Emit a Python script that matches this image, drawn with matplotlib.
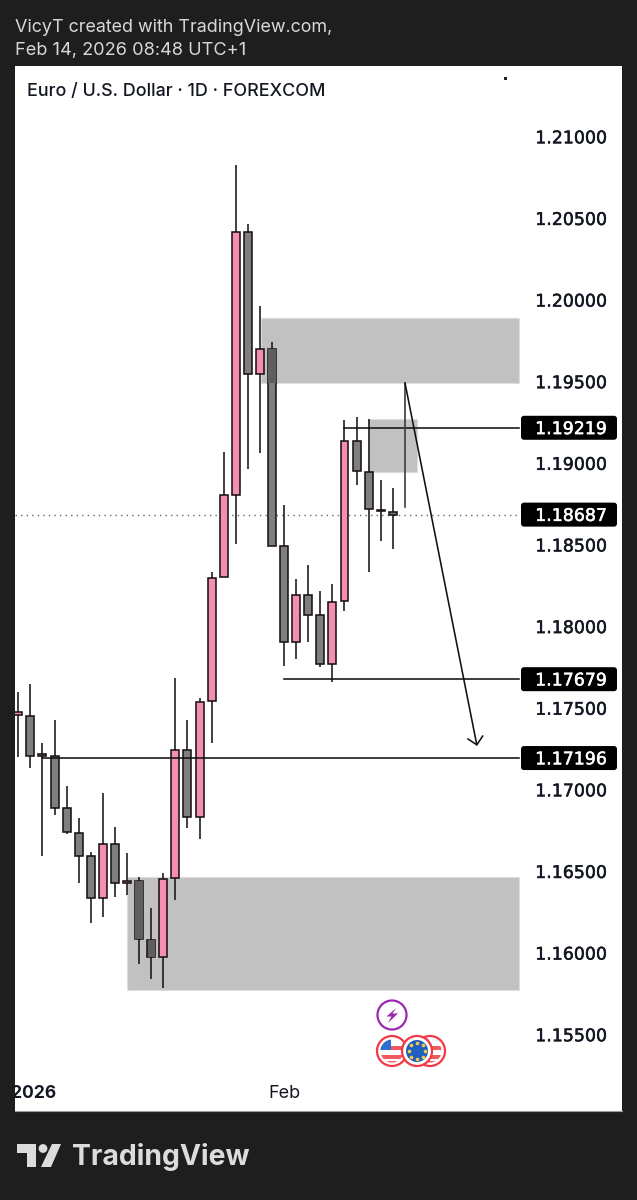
import matplotlib
matplotlib.use("Agg")
import matplotlib.pyplot as plt
import matplotlib.patheffects as pe
from matplotlib.patches import Rectangle, Circle, Polygon, FancyBboxPatch

plt.rcParams['font.family'] = ['Inter', 'Roboto', 'DejaVu Sans']

# daily candles
opens = [1.17458, 1.17455, 1.17220, 1.17210, 1.16888, 1.16739, 1.16596, 1.16337,
         1.16668, 1.16429, 1.16443, 1.16083, 1.15979, 1.16460, 1.17244, 1.16833,
         1.17544, 1.18303, 1.18807, 1.20420, 1.19547, 1.19703, 1.18497, 1.17909,
         1.18197, 1.18072, 1.17772, 1.18156, 1.19138, 1.18950, 1.18718, 1.18705]
closes = [1.17478, 1.17210, 1.17210, 1.16892, 1.16743, 1.16598, 1.16337, 1.16668,
          1.16429, 1.16443, 1.16086, 1.15979, 1.16455, 1.17244, 1.16833, 1.17539,
          1.18301, 1.18805, 1.20420, 1.19547, 1.19703, 1.18497, 1.17909, 1.18197,
          1.18074, 1.17774, 1.18152, 1.19138, 1.18952, 1.18720, 1.18710, 1.18687]
highs = [1.17599, 1.17650, 1.17290, 1.17429, 1.17025, 1.16831, 1.16619, 1.16984,
         1.16776, 1.16616, 1.16469, 1.16276, 1.16490, 1.17685, 1.17429, 1.17566,
         1.18337, 1.19072, 1.20828, 1.20465, 1.19967, 1.19746, 1.18746, 1.18291,
         1.18378, 1.18217, 1.18262, 1.19267, 1.19287, 1.19273, 1.18899, 1.18848]
lows = [1.17204, 1.17137, 1.16598, 1.16845, 1.16731, 1.16431, 1.16184, 1.16221,
        1.16347, 1.16357, 1.15936, 1.15845, 1.15786, 1.16327, 1.16766, 1.16700,
        1.17286, 1.18303, 1.18507, 1.18965, 1.19066, 1.18497, 1.17762, 1.17803,
        1.17909, 1.17752, 1.17660, 1.18099, 1.18868, 1.18334, 1.18527, 1.18478]

price_ticks = [1.21, 1.205, 1.20, 1.195, 1.19, 1.185, 1.18, 1.175, 1.17, 1.165, 1.16, 1.155]

# zones: x start, x end, price low, price high
zones = [(20.09, 41.45, 1.19493, 1.19892),
         (28.95, 33.0, 1.18950, 1.19270),
         (9.0, 41.45, 1.15776, 1.16469)]

# level lines: start x, price
levels = [(27.0, 1.19219), (22.0, 1.17679), (2.0, 1.17196)]
last_price = 1.18687

BG = "#1e1e1e"
PINK = "#f48fb1"
GREY = "#7f7f7f"
EDGE = "#1a1216"

fig = plt.figure(figsize=(6.37, 12.0), dpi=100, facecolor=BG)
ax = fig.add_axes([15 / 637, 1 - 1111 / 1200, 607 / 637, 1045 / 1200])
ax.set_xlim(-0.273, 49.97)
ax.set_ylim(1.15034, 1.21435)
ax.set_xticks([])
ax.set_yticks([])
for s in ax.spines.values():
    s.set_visible(False)

for z in zones:
    ax.add_patch(Rectangle((z[0], z[2]), z[1] - z[0], z[3] - z[2], facecolor="#c1c1c1",
                           edgecolor="#e2d9e8", linewidth=0.8, zorder=1))

ax.plot([-0.273, 41.45], [last_price, last_price], color="#666666", lw=1.0,
        linestyle=(0, (1, 3)), zorder=2)

for i in range(len(opens)):
    up = closes[i] >= opens[i]
    low_body = min(opens[i], closes[i])
    top_body = max(opens[i], closes[i])
    ax.plot([i, i], [lows[i], highs[i]], color="#161616", lw=1.15, zorder=3, solid_capstyle="butt")
    ax.add_patch(Rectangle((i - 0.33, low_body), 0.66, top_body - low_body,
                           facecolor=PINK if up else GREY, edgecolor=EDGE, linewidth=1.15, zorder=4))
    if up:
        continue
    # grey bodies look darker where a zone lies over them
    for z in zones:
        if z[0] < i < z[1] and low_body < z[3] and top_body > z[2]:
            ax.add_patch(Rectangle((i - 0.3, max(low_body, z[2])), 0.6,
                                   min(top_body, z[3]) - max(low_body, z[2]),
                                   facecolor="#5f5f5f", edgecolor="none", zorder=4.5))

deco = fig.add_axes([0, 0, 1, 1], facecolor="none")
deco.set_xlim(0, 637)
deco.set_ylim(1200, 0)
deco.axis("off")


def price_y(p):
    return 1200 - ax.transData.transform((0, p))[1]


def price_text(p, color):
    deco.text(571, price_y(p) + 1.3, "%.5f" % p, color=color, fontsize=12.5, family="DejaVu Sans",
              ha="center", va="center", zorder=7,
              path_effects=[pe.withStroke(linewidth=0.35, foreground=color)])


def price_box(p):
    y = price_y(p)
    deco.add_patch(FancyBboxPatch((523, y - 10), 92, 20, boxstyle="round,pad=2,rounding_size=3",
                                  facecolor="black", edgecolor="none", zorder=6))
    price_text(p, "white")


for lv in levels:
    ax.plot([lv[0], 41.45], [lv[1], lv[1]], color="#111111", lw=1.15, zorder=5)
    price_box(lv[1])
price_box(last_price)

for p in price_ticks:
    price_text(p, "#131722")

# hand drawn arrow
ax.plot([32.01, 32.01], [1.18734, 1.19493], color="#3a3a3a", lw=1.2, zorder=5)
ax.annotate("", xy=(37.97, 1.17270), xytext=(32.01, 1.19493), zorder=5,
            arrowprops=dict(arrowstyle="->,head_length=0.55,head_width=0.55", color="#111111",
                            lw=1.15, shrinkA=0, shrinkB=0))

deco.text(15, 27, "VicyT created with TradingView.com,", color="#d8d8d8", fontsize=12.9, va="center")
deco.text(15, 50, "Feb 14, 2026 08:48 UTC+1", color="#d8d8d8", fontsize=13.1, va="center")
deco.text(27, 91, "Euro / U.S. Dollar · 1D · FOREXCOM", color="#131722", fontsize=12.9,
          fontweight="medium", va="center")
deco.add_patch(Rectangle((504, 77), 2.5, 2.5, facecolor="#222222"))

t = deco.text(34, 1093, "2026", color="#131722", fontsize=12.6, fontweight="bold", va="center", ha="center")
t.set_clip_path(Rectangle((15, 1070), 60, 40, transform=deco.transData))
deco.text(284, 1093, "Feb", color="#131722", fontsize=13, va="center", ha="center")
deco.plot([15, 622], [1111, 1111], color="#9a9a9a", lw=0.8)

# logo
LOGO = "#dcdcdc"
deco.add_patch(Polygon([(17, 1144), (36, 1144), (36, 1167), (27, 1167), (27, 1153), (17, 1153)], facecolor=LOGO))
deco.add_patch(Circle((43, 1148.5), 4.4, facecolor=LOGO))
deco.add_patch(Polygon([(52, 1144), (61, 1144), (51, 1167), (41, 1167)], facecolor=LOGO))
deco.text(72, 1157, "TradingView", color=LOGO, fontsize=20.4, fontweight="bold", va="center")

# event icons
PURPLE = "#9c27b0"
deco.add_patch(Circle((392, 1015), 14.5, facecolor="white", edgecolor=PURPLE, lw=1.6))
deco.add_patch(Polygon([(396, 1008), (386.5, 1016.5), (391.5, 1016.5), (388, 1023), (398, 1013.5), (392.5, 1013.5)],
                       facecolor=PURPLE))


def flag(cx, cy, kind):
    deco.add_patch(Circle((cx, cy), 15, facecolor="white", edgecolor="#ef3a45", lw=1.6))
    if kind == "us":
        for dy in (-5, 4, 10):
            r = Rectangle((cx - 12, cy + dy), 24, 3.5, facecolor="#f05a5f")
            deco.add_patch(r)
            r.set_clip_path(Circle((cx, cy), 11.5, transform=deco.transData))
        r = Rectangle((cx - 12, cy - 12), 11, 11, facecolor="#2f6fd0")
        deco.add_patch(r)
        r.set_clip_path(Circle((cx, cy), 11.5, transform=deco.transData))
    else:
        deco.add_patch(Circle((cx, cy), 11, facecolor="#1f5fbf"))
        deco.scatter([cx, cx + 6, cx + 8, cx + 6, cx, cx - 6, cx - 8, cx - 6],
                     [cy - 8, cy - 6, cy, cy + 6, cy + 8, cy + 6, cy, cy - 6],
                     s=2.5, color="#f6c945", zorder=5)


flag(430, 1051, "us")
flag(392, 1051, "us")
flag(417, 1051, "eu")

fig.savefig("out.png", dpi=100, facecolor=BG)
